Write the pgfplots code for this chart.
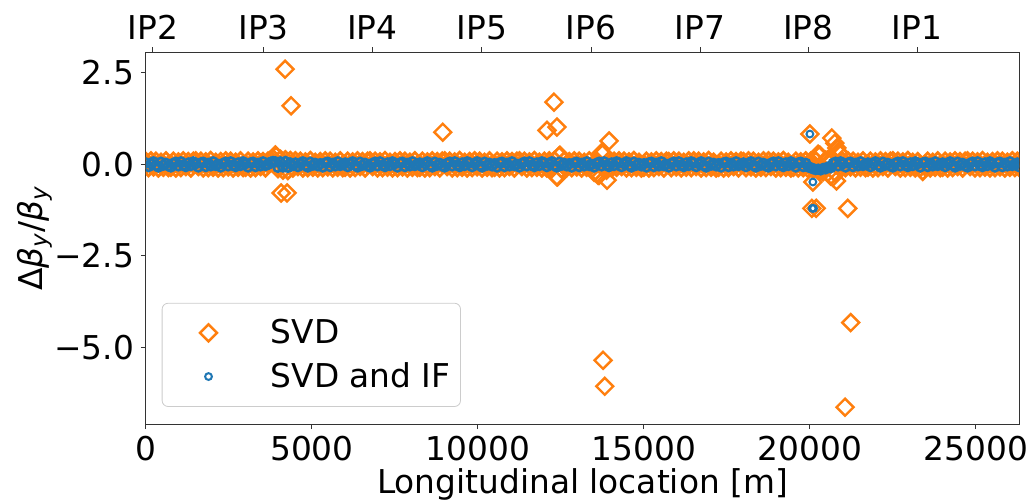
\documentclass[border=0pt]{standalone}
\usepackage{fontspec}
\setmainfont{DejaVu Sans}
\usepackage{pgfplots}
\pgfplotsset{compat=1.18}
\usepackage{pgfplotstable}
\usetikzlibrary{calc}
\definecolor{tabblue}{HTML}{1F77B4}
\definecolor{taborange}{HTML}{FF7F0E}

% dense band of BPMs: x, SVD value, SVD+IF value
\pgfplotstableread[row sep=\\]{
x s f\\
0 0.04 0.04\\ 75 -0.05 -0.06\\ 150 0.06 0.02\\ 225 -0.03 0.07\\ 300 0.05 -0.03\\ 375 -0.06 -0.07\\ 450 0.02 0.06\\ 525 -0.04 -0.02\\ 600 0.06 0.03\\ 675 -0.05 -0.04\\
750 -0.04 -0.07\\ 825 0.05 0.03\\ 900 -0.06 0.06\\ 975 0.03 -0.04\\ 1050 -0.05 0.07\\ 1125 0.06 -0.02\\ 1200 -0.02 -0.06\\ 1275 0.04 0.04\\ 1350 -0.06 -0.03\\ 1425 0.05 0.07\\
1500 0.06 0.02\\ 1575 -0.02 -0.07\\ 1650 0.05 0.04\\ 1725 -0.06 0.06\\ 1800 0.03 -0.06\\ 1875 -0.05 0.03\\ 1950 0.07 -0.04\\ 2025 -0.04 0.07\\ 2100 0.02 -0.03\\ 2175 -0.06 0.00\\
2250 0.04 -0.07\\ 2325 -0.05 0.03\\ 2400 0.06 0.06\\ 2475 -0.03 -0.04\\ 2550 0.05 0.07\\ 2625 -0.06 -0.02\\ 2700 0.02 -0.06\\ 2775 -0.04 0.04\\ 2850 0.06 -0.03\\ 2925 -0.05 0.07\\
3000 -0.04 0.02\\ 3075 0.05 -0.07\\ 3150 -0.06 0.04\\ 3225 0.03 0.06\\ 3300 -0.05 -0.06\\ 3375 0.06 0.03\\ 3450 -0.02 -0.04\\ 3525 0.04 0.07\\ 3600 -0.06 -0.03\\ 3675 0.05 0.00\\
3750 0.08 0.06\\ 3825 0.12 0.08\\ 3900 0.22 0.07\\ 3975 -0.08 -0.08\\ 4050 0.10 0.07\\ 4125 -0.12 -0.07\\ 4200 0.09 0.08\\ 4275 -0.13 -0.08\\ 4350 0.07 0.04\\ 4425 -0.06 -0.03\\
4500 0.06 0.04\\ 4575 -0.02 -0.06\\ 4650 0.05 0.02\\ 4725 -0.06 0.07\\ 4800 0.03 -0.03\\ 4875 -0.05 -0.07\\ 4950 0.07 0.06\\ 5025 -0.04 -0.02\\ 5100 0.02 0.03\\ 5175 -0.06 -0.04\\
5250 0.04 0.02\\ 5325 -0.05 -0.07\\ 5400 0.06 0.04\\ 5475 -0.03 0.06\\ 5550 0.05 -0.06\\ 5625 -0.06 0.03\\ 5700 0.02 -0.04\\ 5775 -0.04 0.07\\ 5850 0.06 -0.03\\ 5925 -0.05 0.00\\
6000 -0.04 0.04\\ 6075 0.05 -0.06\\ 6150 -0.06 0.02\\ 6225 0.03 0.07\\ 6300 -0.05 -0.03\\ 6375 0.06 -0.07\\ 6450 -0.02 0.06\\ 6525 0.04 -0.02\\ 6600 -0.06 0.03\\ 6675 0.05 -0.04\\
6750 0.06 -0.07\\ 6825 -0.02 0.03\\ 6900 0.05 0.06\\ 6975 -0.06 -0.04\\ 7050 0.03 0.07\\ 7125 -0.05 -0.02\\ 7200 0.07 -0.06\\ 7275 -0.04 0.04\\ 7350 0.02 -0.03\\ 7425 -0.06 0.07\\
7500 0.04 0.02\\ 7575 -0.05 -0.07\\ 7650 0.06 0.04\\ 7725 -0.03 0.06\\ 7800 0.05 -0.06\\ 7875 -0.06 0.03\\ 7950 0.02 -0.04\\ 8025 -0.04 0.07\\ 8100 0.06 -0.03\\ 8175 -0.05 0.00\\
8250 -0.04 0.04\\ 8325 0.05 -0.06\\ 8400 -0.06 0.02\\ 8475 0.03 0.07\\ 8550 -0.05 -0.03\\ 8625 0.06 -0.07\\ 8700 -0.02 0.06\\ 8775 0.04 -0.02\\ 8850 -0.06 0.03\\ 8925 0.05 -0.04\\
9000 0.06 -0.07\\ 9075 -0.02 0.03\\ 9150 0.05 0.06\\ 9225 -0.06 -0.04\\ 9300 0.03 0.07\\ 9375 -0.05 -0.02\\ 9450 0.07 -0.06\\ 9525 -0.04 0.04\\ 9600 0.02 -0.03\\ 9675 -0.06 0.07\\
9750 0.04 0.04\\ 9825 -0.05 -0.06\\ 9900 0.06 0.02\\ 9975 -0.03 0.07\\ 10050 0.05 -0.03\\ 10125 -0.06 -0.07\\ 10200 0.02 0.06\\ 10275 -0.04 -0.02\\ 10350 0.06 0.03\\ 10425 -0.05 -0.04\\
10500 -0.04 0.02\\ 10575 0.05 -0.07\\ 10650 -0.06 0.04\\ 10725 0.03 0.06\\ 10800 -0.05 -0.06\\ 10875 0.06 0.03\\ 10950 -0.02 -0.04\\ 11025 0.04 0.07\\ 11100 -0.06 -0.03\\ 11175 0.05 0.00\\
11250 0.06 -0.07\\ 11325 -0.02 0.03\\ 11400 0.05 0.06\\ 11475 -0.06 -0.04\\ 11550 0.03 0.07\\ 11625 -0.05 -0.02\\ 11700 0.07 -0.06\\ 11775 -0.04 0.04\\ 11850 0.02 -0.03\\ 11925 -0.06 0.07\\
12000 0.05 0.04\\ 12075 -0.06 -0.06\\ 12150 0.06 0.02\\ 12225 -0.08 0.07\\ 12300 0.07 -0.03\\ 12375 -0.30 -0.07\\ 12450 0.20 0.06\\ 12525 -0.09 -0.02\\ 12600 0.06 0.03\\ 12675 -0.05 -0.04\\
12750 0.04 0.02\\ 12825 -0.05 -0.07\\ 12900 0.06 0.04\\ 12975 -0.03 0.06\\ 13050 0.05 -0.06\\ 13125 -0.06 0.03\\ 13200 0.02 -0.04\\ 13275 -0.04 0.07\\ 13350 0.06 -0.03\\ 13425 -0.09 0.00\\
13500 -0.18 -0.07\\ 13575 0.06 0.03\\ 13650 -0.26 0.06\\ 13725 0.28 -0.04\\ 13800 -0.08 0.07\\ 13875 -0.12 -0.02\\ 13950 0.07 -0.06\\ 14025 -0.06 0.04\\ 14100 0.05 -0.03\\ 14175 -0.04 0.07\\
14250 0.06 0.04\\ 14325 -0.02 -0.06\\ 14400 0.05 0.02\\ 14475 -0.06 0.07\\ 14550 0.03 -0.03\\ 14625 -0.05 -0.07\\ 14700 0.07 0.06\\ 14775 -0.04 -0.02\\ 14850 0.02 0.03\\ 14925 -0.06 -0.04\\
15000 -0.04 0.02\\ 15075 0.05 -0.07\\ 15150 -0.06 0.04\\ 15225 0.03 0.06\\ 15300 -0.05 -0.06\\ 15375 0.06 0.03\\ 15450 -0.02 -0.04\\ 15525 0.04 0.07\\ 15600 -0.06 -0.03\\ 15675 0.05 0.00\\
15750 0.04 -0.07\\ 15825 -0.05 0.03\\ 15900 0.06 0.06\\ 15975 -0.03 -0.04\\ 16050 0.05 0.07\\ 16125 -0.06 -0.02\\ 16200 0.02 -0.06\\ 16275 -0.04 0.04\\ 16350 0.06 -0.03\\ 16425 -0.05 0.07\\
16500 0.06 0.04\\ 16575 -0.02 -0.06\\ 16650 0.05 0.02\\ 16725 -0.06 0.07\\ 16800 0.03 -0.03\\ 16875 -0.05 -0.07\\ 16950 0.07 0.06\\ 17025 -0.04 -0.02\\ 17100 0.02 0.03\\ 17175 -0.06 -0.04\\
17250 -0.04 0.02\\ 17325 0.05 -0.07\\ 17400 -0.06 0.04\\ 17475 0.03 0.06\\ 17550 -0.05 -0.06\\ 17625 0.06 0.03\\ 17700 -0.02 -0.04\\ 17775 0.04 0.07\\ 17850 -0.06 -0.03\\ 17925 0.05 0.00\\
18000 0.04 0.04\\ 18075 -0.05 -0.06\\ 18150 0.06 0.02\\ 18225 -0.03 0.07\\ 18300 0.05 -0.03\\ 18375 -0.06 -0.07\\ 18450 0.02 0.06\\ 18525 -0.04 -0.02\\ 18600 0.06 0.03\\ 18675 -0.05 -0.04\\
18750 0.06 -0.07\\ 18825 -0.02 0.03\\ 18900 0.05 0.06\\ 18975 -0.06 -0.04\\ 19050 0.03 0.07\\ 19125 -0.05 -0.02\\ 19200 0.07 -0.06\\ 19275 -0.04 0.04\\ 19350 0.02 -0.03\\ 19425 -0.06 0.07\\
19500 -0.04 0.02\\ 19575 0.05 -0.07\\ 19650 -0.06 0.04\\ 19725 0.03 0.06\\ 19800 -0.05 -0.06\\ 19875 0.06 0.03\\ 19950 -0.08 -0.07\\ 20025 0.05 -0.09\\ 20100 -0.10 -0.12\\ 20175 0.06 -0.14\\
20250 0.24 -0.13\\ 20325 -0.14 -0.15\\ 20400 -0.16 -0.11\\ 20475 0.08 -0.12\\ 20550 0.10 -0.07\\ 20625 -0.28 -0.09\\ 20700 0.09 0.03\\ 20775 -0.20 0.06\\ 20850 0.30 -0.04\\ 20925 -0.08 0.07\\
21000 0.04 0.02\\ 21075 -0.05 -0.07\\ 21150 0.06 0.04\\ 21225 -0.03 0.06\\ 21300 0.05 -0.06\\ 21375 -0.06 0.03\\ 21450 0.02 -0.04\\ 21525 -0.04 0.07\\ 21600 0.06 -0.03\\ 21675 -0.05 0.00\\
21750 -0.04 0.04\\ 21825 0.05 -0.06\\ 21900 -0.06 0.02\\ 21975 0.03 0.07\\ 22050 -0.05 -0.03\\ 22125 0.06 -0.07\\ 22200 -0.02 0.06\\ 22275 0.04 -0.02\\ 22350 -0.06 0.03\\ 22425 0.05 -0.04\\
22500 0.06 -0.07\\ 22575 -0.02 0.03\\ 22650 0.05 0.06\\ 22725 -0.06 -0.04\\ 22800 0.03 0.07\\ 22875 -0.05 -0.02\\ 22950 0.07 -0.06\\ 23025 -0.04 0.04\\ 23100 0.02 -0.03\\ 23175 -0.06 0.07\\
23250 0.04 0.02\\ 23325 -0.05 -0.07\\ 23400 -0.15 0.04\\ 23475 -0.03 0.06\\ 23550 0.05 -0.06\\ 23625 -0.06 0.03\\ 23700 0.02 -0.04\\ 23775 -0.04 0.07\\ 23850 0.06 -0.03\\ 23925 -0.05 0.00\\
24000 -0.04 0.04\\ 24075 0.05 -0.06\\ 24150 -0.06 0.02\\ 24225 0.03 0.07\\ 24300 -0.05 -0.03\\ 24375 0.06 -0.07\\ 24450 -0.02 0.06\\ 24525 0.04 -0.02\\ 24600 -0.06 0.03\\ 24675 0.05 -0.04\\
24750 0.06 -0.07\\ 24825 -0.02 0.03\\ 24900 0.05 0.06\\ 24975 -0.06 -0.04\\ 25050 0.03 0.07\\ 25125 -0.05 -0.02\\ 25200 0.07 -0.06\\ 25275 -0.04 0.04\\ 25350 0.02 -0.03\\ 25425 -0.06 0.07\\
25500 0.04 0.02\\ 25575 -0.05 -0.07\\ 25650 0.06 0.04\\ 25725 -0.03 0.06\\ 25800 0.05 -0.06\\ 25875 -0.06 0.03\\ 25950 0.02 -0.04\\ 26025 -0.04 0.07\\ 26100 0.06 -0.03\\ 26175 -0.05 0.00\\
26250 0.05 0.04\\ 26300 -0.04 -0.06\\
}\band

% SVD outliers
\pgfplotstableread[row sep=\\]{
x y\\
3920 0.22\\ 4070 -0.78\\ 4250 -0.78\\ 4190 2.60\\ 4370 1.60\\ 8940 0.88\\
12080 0.93\\ 12290 1.70\\ 12380 1.02\\ 12470 0.25\\ 12400 -0.34\\
13620 -0.30\\ 13770 0.30\\ 13950 0.64\\ 13890 -0.43\\ 13770 -5.35\\ 13820 -6.06\\
20000 0.83\\ 20090 -0.48\\ 20060 -1.20\\ 20190 -1.20\\ 20300 0.25\\
20660 0.72\\ 20750 0.58\\ 20810 0.45\\ 20900 0.30\\ 20690 -0.35\\ 20800 -0.45\\
21140 -1.20\\ 21230 -4.32\\ 21060 -6.63\\
}\svdout

% SVD and IF outliers
\pgfplotstableread[row sep=\\]{
x y\\
20000 0.83\\ 20090 -0.48\\ 20070 -1.20\\ 20110 -1.20\\
}\ifout

\begin{document}
\begin{tikzpicture}
\pgfplotsset{every axis/.append style={font=\fontsize{16.4}{19.7}\selectfont}}
\begin{axis}[
    name=ax,
    scale only axis,
    width=436.5pt, height=186pt,
    xmin=0, xmax=26300, ymin=-7.09, ymax=3.07,
    scaled x ticks=false,
    xtick={0,5000,10000,15000,20000,25000},
    xticklabels={0,5000,10000,15000,20000,25000},
    ytick={-5,-2.5,0,2.5},
    yticklabels={−5.0,−2.5,0.0,2.5},
    tick align=outside, xtick pos=left, ytick pos=left,
    major tick length=2.5pt,
    tick style={black!80, line width=0.5pt},
    axis line style={black!80, line width=0.5pt},
    xlabel={Longitudinal location [m]},
    xlabel style={yshift=3pt},
    ylabel={Δ\textit{β}\textsubscript{\textit{y}}/\textit{β}\textsubscript{\textit{y}}},
    ylabel style={yshift=-6pt},
    clip marker paths=true,
    legend cell align=left,
    legend style={at={(0.018,0.046)}, anchor=south west, draw=black!20,
        rounded corners=3pt, fill=white, inner xsep=3pt, inner ysep=6pt,
        row sep=4pt},
    legend image code/.code={\path (0pt,0pt) (49pt,0pt);
        \draw[#1] plot coordinates {(20pt,0pt)};},
]
% the dense band (drawn with slightly heavier marks so that it closes up)
\addplot[only marks, mark=square, mark size=3.4pt, forget plot,
    mark options={rotate=45, draw=taborange, fill=none, line width=1.4pt}]
    table[x=x, y=s] {\band};
\addplot[only marks, mark=square, mark size=3pt,
    mark options={rotate=45, draw=taborange, fill=none, line width=1.2pt}]
    table[x=x, y=y] {\svdout};
\addlegendentry{SVD}
\addplot[only marks, mark=o, mark size=2.2pt, forget plot,
    mark options={draw=tabblue, fill=none, line width=1.3pt}]
    table[x=x, y=f] {\band};
\addplot[only marks, mark=o, mark size=1.7pt,
    mark options={draw=tabblue, fill=none, line width=1pt}]
    table[x=x, y=y] {\ifout};
\addlegendentry{SVD and IF}
\end{axis}
\begin{axis}[
    scale only axis,
    width=436.5pt, height=186pt,
    at={(ax.south west)}, anchor=south west,
    xmin=0, xmax=26300, ymin=0, ymax=1,
    axis x line*=top, axis y line=none,
    xtick={210,3540,6820,10120,13410,16690,19950,23230},
    xticklabels={IP2,IP3,IP4,IP5,IP6,IP7,IP8,IP1},
    tick align=outside, major tick length=2.5pt,
    tick style={black!80, line width=0.5pt},
    axis line style={black!80, line width=0.5pt},
]
\end{axis}
\pgfresetboundingbox
\path ($(ax.south west)+(-73pt,-39pt)$) rectangle ($(ax.north east)+(4.5pt,26pt)$);
\end{tikzpicture}
\end{document}
